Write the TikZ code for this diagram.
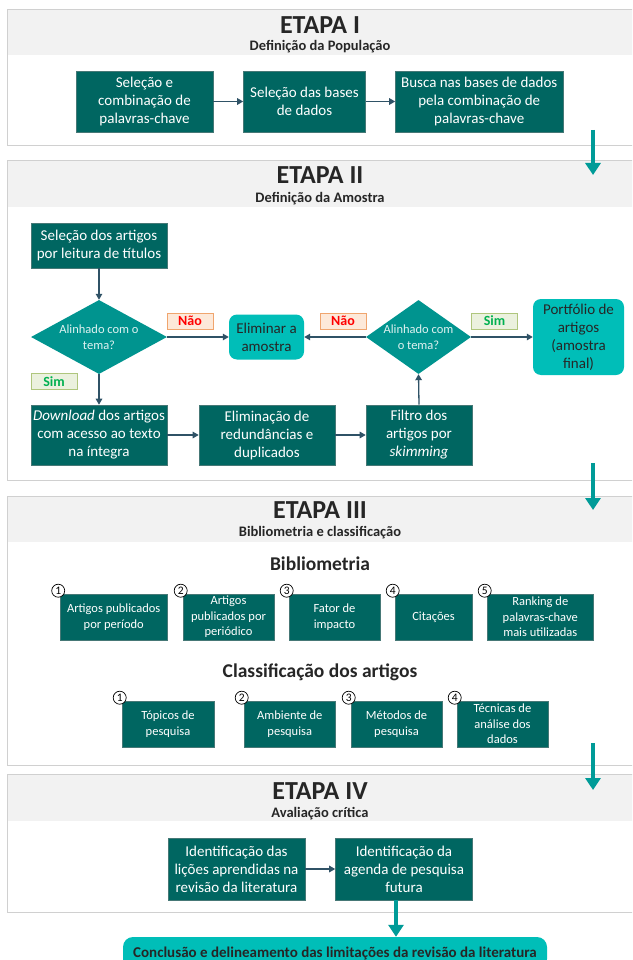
\documentclass[tikz,border=0pt]{standalone}
\usepackage{fontspec}
\setmainfont{Carlito}
\usetikzlibrary{shapes.geometric,arrows.meta}

\definecolor{dbox}{RGB}{0,102,97}
\definecolor{dboxb}{RGB}{70,120,118}
\definecolor{diam}{RGB}{0,148,143}
\definecolor{bright}{RGB}{0,190,184}
\definecolor{connc}{RGB}{47,82,102}
\definecolor{bigarr}{RGB}{0,155,152}
\definecolor{panelb}{RGB}{208,208,208}
\definecolor{band}{RGB}{242,242,242}
\definecolor{titlec}{RGB}{38,38,38}
\definecolor{naofill}{RGB}{253,233,217}
\definecolor{naob}{RGB}{240,165,110}
\definecolor{naot}{RGB}{255,0,0}
\definecolor{simfill}{RGB}{235,241,222}
\definecolor{simb}{RGB}{175,198,125}
\definecolor{simt}{RGB}{0,176,80}

\begin{document}
\begin{tikzpicture}[x=1pt,y=-1pt,
  box/.style={draw=dboxb, line width=0.6pt, fill=dbox, text=white, align=center, inner sep=0pt, font=\fontsize{15}{18}\selectfont},
  sbox/.style={box, font=\fontsize{12.5}{15.5}\selectfont},
  rbox/.style={fill=bright, rounded corners=8pt, align=center, inner sep=0pt, text=titlec, font=\fontsize{15}{18}\selectfont},
  dmd/.style={diamond, fill=diam, inner sep=0pt},
  dtext/.style={text=white!88!diam, align=center, font=\fontsize{12.5}{16}\selectfont},
  nao/.style={fill=naofill, draw=naob, line width=0.8pt, text=naot, font=\bfseries\fontsize{14}{14}\selectfont, minimum width=46pt, minimum height=16pt, inner sep=0pt},
  sim/.style={nao, fill=simfill, draw=simb, text=simt},
  conn/.style={draw=connc, line width=1.3pt, -{Triangle[length=6pt,width=6.5pt]}},
  big/.style={draw=bigarr, line width=4pt, -{Triangle[length=12pt,width=15pt]}},
  num/.style={circle, draw=black, fill=white, line width=0.7pt, minimum size=13pt, inner sep=0pt, font=\fontsize{11.5}{11.5}\selectfont},
  etapa/.style={text=titlec, font=\bfseries\fontsize{26}{26}\selectfont},
  subt/.style={text=titlec, font=\bfseries\fontsize{14.5}{15}\selectfont},
  headt/.style={text=titlec, font=\bfseries\fontsize{19.5}{20}\selectfont},
]
\useasboundingbox (0,0) rectangle (632,960);
\clip (0,0) rectangle (632,960);
\fill[white] (0,0) rectangle (632,960);

% ---------- panels ----------
\fill[band] (7,10) rectangle (650,55);
\draw[panelb, line width=1pt] (7,10) rectangle (650,146);
\fill[band] (7,161) rectangle (650,207);
\draw[panelb, line width=1pt] (7,161) rectangle (650,480);
\fill[band] (7,496) rectangle (650,542);
\draw[panelb, line width=1pt] (7,496) rectangle (650,765);
\fill[band] (7,774) rectangle (650,821);
\draw[panelb, line width=1pt] (7,774) rectangle (650,912);

% ---------- ETAPA I ----------
\node[etapa] (t1) at (320,25) {ETAPA I};
\node[subt] (s1t) at (320,47) {Definição da População};
\node[box, minimum width=137pt, minimum height=61pt] (a1) at (144.5,101.5) {Seleção e\\combinação de\\palavras-chave};
\node[box, minimum width=122pt, minimum height=61pt] (a2) at (304.5,101.5) {Seleção das bases\\de dados};
\node[box, minimum width=167.5pt, minimum height=61pt] (a3) at (479.25,101.5) {Busca nas bases de dados\\pela combinação de\\palavras-chave};
\draw[conn] (a1) -- (a2);
\draw[conn] (a2) -- (a3);
\coordinate (g1s) at (593,130);
\coordinate (g1e) at (593,175);
\draw[big] (g1s) -- (g1e);

% ---------- ETAPA II ----------
\node[etapa] (t2) at (320,175) {ETAPA II};
\node[subt] (s2t) at (320,199) {Definição da Amostra};
\node[box, minimum width=136pt, minimum height=45pt] (b0) at (99,245.5) {Seleção dos artigos\\por leitura de títulos};
\node[dmd, minimum width=136pt, minimum height=74pt, label={[dtext]center:{Alinhado com o\\tema?}}] (d1) at (99,337) {};
\node[dmd, minimum width=105pt, minimum height=74pt, label={[dtext]center:{Alinhado com\\o tema?}}] (d2) at (418.5,337) {};
\node[rbox, minimum width=75pt, minimum height=45pt] (elim) at (266.5,337) {Eliminar a\\amostra};
\node[rbox, minimum width=91pt, minimum height=76pt] (port) at (578.5,337) {Portfólio de\\artigos\\(amostra\\final)};
\node[nao] (nao1) at (190,321) {Não};
\node[nao] (nao2) at (343,321) {Não};
\node[sim] (sim2) at (494.5,321) {Sim};
\node[sim] (sim1) at (54,381.5) {Sim};
\node[box, minimum width=136pt, minimum height=60pt] (dl) at (99,435) {\textit{Download} dos artigos\\com acesso ao texto\\na íntegra};
\node[box, minimum width=136pt, minimum height=60pt] (red) at (267,435) {Eliminação de\\redundâncias e\\duplicados};
\node[box, minimum width=106pt, minimum height=60pt] (filt) at (419,435) {Filtro dos\\artigos por\\\textit{skimming}};
\draw[conn] (b0) -- (d1);
\draw[conn] (d1.east) -- (elim.west);
\draw[conn] (d2.west) -- (elim.east);
\draw[conn] (d2.east) -- (port.west);
\draw[conn] (d1.south) -- (dl.north);
\draw[conn] (dl) -- (red);
\draw[conn] (red) -- (filt);
\draw[conn] (filt.north) -- (d2.south);
\coordinate (g2s) at (593,463);
\coordinate (g2e) at (593,510);
\draw[big] (g2s) -- (g2e);

% ---------- ETAPA III ----------
\node[etapa] (t3) at (320,510) {ETAPA III};
\node[subt] (s3t) at (320,533) {Bibliometria e classificação};
\node[headt] (h1) at (320,564) {Bibliometria};
\node[sbox, minimum width=106.5pt, minimum height=46pt] (c1) at (113.75,617) {Artigos publicados\\por período};
\node[sbox, minimum width=91pt, minimum height=46pt] (c2) at (228.5,617) {Artigos\\publicados por\\periódico};
\node[sbox, minimum width=91pt, minimum height=46pt] (c3) at (334.5,617) {Fator de\\impacto};
\node[sbox, minimum width=77pt, minimum height=46pt] (c4) at (433.5,617) {Citações};
\node[sbox, minimum width=106.5pt, minimum height=46pt] (c5) at (540.25,617) {Ranking de\\palavras-chave\\mais utilizadas};
\node[num] (cn1) at ([xshift=-2pt,yshift=3pt]c1.north west) {1};
\node[num] (cn2) at ([xshift=-2pt,yshift=3pt]c2.north west) {2};
\node[num] (cn3) at ([xshift=-2pt,yshift=3pt]c3.north west) {3};
\node[num] (cn4) at ([xshift=-2pt,yshift=3pt]c4.north west) {4};
\node[num] (cn5) at ([xshift=-2pt,yshift=3pt]c5.north west) {5};
\node[headt] (h2) at (320,672) {Classificação dos artigos};
\node[sbox, minimum width=92pt, minimum height=46pt] (k1) at (168,724) {Tópicos de\\pesquisa};
\node[sbox, minimum width=91.5pt, minimum height=46pt] (k2) at (289.75,724) {Ambiente de\\pesquisa};
\node[sbox, minimum width=91pt, minimum height=46pt] (k3) at (396.5,724) {Métodos de\\pesquisa};
\node[sbox, minimum width=91pt, minimum height=46pt] (k4) at (502.5,724) {Técnicas de\\análise dos\\dados};
\node[num] (kn1) at ([xshift=-2pt,yshift=3pt]k1.north west) {1};
\node[num] (kn2) at ([xshift=-2pt,yshift=3pt]k2.north west) {2};
\node[num] (kn3) at ([xshift=-2pt,yshift=3pt]k3.north west) {3};
\node[num] (kn4) at ([xshift=-2pt,yshift=3pt]k4.north west) {4};
\coordinate (g3s) at (593,743);
\coordinate (g3e) at (593,790);
\draw[big] (g3s) -- (g3e);

% ---------- ETAPA IV ----------
\node[etapa] (t4) at (320,791) {ETAPA IV};
\node[subt] (s4t) at (320,814) {Avaliação crítica};
\node[box, minimum width=137pt, minimum height=62pt] (e1) at (236.5,869) {Identificação das\\lições aprendidas na\\revisão da literatura};
\node[box, minimum width=137pt, minimum height=62pt] (e2) at (404,869) {Identificação da\\agenda de pesquisa\\futura};
\draw[conn] (e1) -- (e2);
\node[rbox, rounded corners=10pt, minimum width=424pt, minimum height=32pt, font=\bfseries\fontsize{15}{17}\selectfont] (concl) at (335,953) {Conclusão e delineamento das limitações da revisão da literatura};
\coordinate (e2b) at ([xshift=-8pt]e2.south);
\draw[big] (e2b) -- (e2b |- concl.north);
\end{tikzpicture}
\end{document}
